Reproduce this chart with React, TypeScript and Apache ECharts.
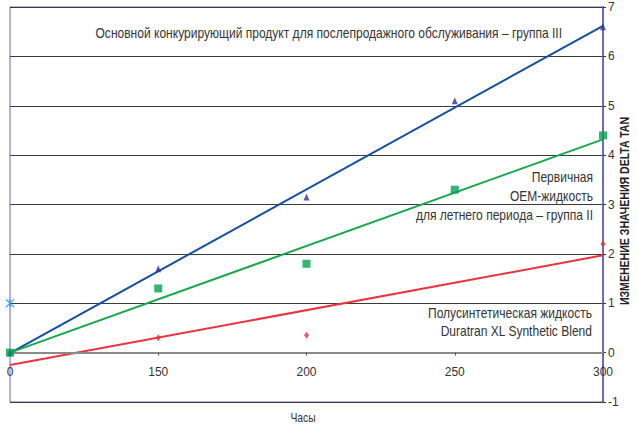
import React, { useEffect, useRef } from "react";
import * as echarts from "echarts";

const categories = ["0", "150", "200", "250", "300"];
const yTicks = { min: -1, max: 7, interval: 1 };

const competitorValues = [0, 1.7, 3.15, 5.1, 6.6];
const oemValues = [0, 1.3, 1.8, 3.3, 4.4];
const duratranValues = [0, 0.3, 0.35, null, 2.2];
const extraValues = [1, null, null, null, null];

// trendline end values (at first and last category)
const competitorTrend = [-0.01, 6.62];
const oemTrend = [0, 4.32];
const duratranTrend = [-0.25, 1.97];

const titleCompetitor = "Основной конкурирующий продукт для послепродажного обслуживания – группа III";
const titleOem = ["Первичная", "OEM-жидкость", "для летнего периода – группа II"];
const titleDuratran = ["Полусинтетическая жидкость", "Duratran XL Synthetic Blend"];
const xName = "Часы";
const yName = "ИЗМЕНЕНИЕ ЗНАЧЕНИЯ DELTA TAN";

const FONT = "'Liberation Sans', Arial, sans-serif";
const TXT = "#333333";

const BLUE = "#13509f";
const GREEN = "#17a84b";
const RED = "#ec3340";

const W = 637;
const H = 427;
const GRID = { left: 10, right: 34, top: 7, bottom: 25 };

export default function App() {
  const ref = useRef<HTMLDivElement>(null);
  useEffect(() => {
    if (!ref.current) return;
    const chart = echarts.init(ref.current, undefined, { renderer: "svg" });
    const last = categories.length - 1;
    const plotH = H - GRID.top - GRID.bottom;
    const zeroOffset = -(plotH * (0 - yTicks.min)) / (yTicks.max - yTicks.min);

    const trend = (v: number[], color: string, name: string) => ({
      name,
      type: "line",
      data: [
        [0, v[0]],
        [last, v[1]],
      ],
      showSymbol: false,
      symbol: "none",
      lineStyle: { color, width: 2 },
      z: 3,
      silent: true,
    });

    const label = (text: string, x: number, y: number, size = 14, align = "right", scale = 0.86) => ({
      type: "text",
      x,
      y,
      scaleX: scale,
      z: 10,
      style: {
        text,
        x: 0,
        y: 0,
        fill: TXT,
        font: `${size}px ${FONT}`,
        align,
        verticalAlign: "middle",
        textAlign: align,
        textVerticalAlign: "middle",
      },
    });

    chart.setOption({
      animation: false,
      textStyle: { fontFamily: FONT },
      grid: {
        ...GRID,
        show: true,
        borderColor: "#6b6bb3",
        borderWidth: 1,
        backgroundColor: "#ffffff",
      },
      xAxis: {
        type: "category",
        data: categories,
        boundaryGap: false,
        offset: zeroOffset,
        axisLine: { onZero: false, lineStyle: { color: "#8a8a8a", width: 2 } },
        axisTick: { show: true, alignWithLabel: true, length: 3, lineStyle: { color: "#555" } },
        axisLabel: { color: TXT, fontSize: 12, margin: 13, fontFamily: FONT },
        splitLine: { show: false },
        z: 4,
      },
      yAxis: {
        type: "value",
        position: "right",
        min: yTicks.min,
        max: yTicks.max,
        interval: yTicks.interval,
        axisLine: { show: true, lineStyle: { color: "#6b6bb3", width: 2 } },
        axisTick: { show: true, length: 3, lineStyle: { color: "#333" } },
        axisLabel: { color: TXT, fontSize: 12, margin: 5, fontFamily: FONT },
        splitLine: { show: true, lineStyle: { color: "#3a3a3a", width: 1 } },
      },
      series: [
        trend(competitorTrend, BLUE, "trendCompetitor"),
        trend(oemTrend, GREEN, "trendOem"),
        trend(duratranTrend, RED, "trendDuratran"),
        {
          name: "duratran",
          type: "scatter",
          data: duratranValues,
          symbol: "diamond",
          symbolSize: [5, 7],
          itemStyle: { color: "#e8303b" },
          z: 5,
        },
        {
          name: "competitor",
          type: "scatter",
          data: competitorValues,
          symbol: "triangle",
          symbolSize: [6, 7],
          itemStyle: { color: "#2b3590" },
          z: 5,
        },
        {
          name: "oem",
          type: "scatter",
          data: oemValues,
          symbol: "rect",
          symbolSize: 8,
          itemStyle: { color: "#00a251" },
          z: 6,
        },
        {
          name: "extra",
          type: "scatter",
          data: extraValues,
          symbol: "path://M0,0 L10,10 M10,0 L0,10 M5,0 L5,10",
          symbolSize: 8,
          itemStyle: { color: "none", borderColor: "#2aa0dc", borderWidth: 1.5 },
          z: 6,
        },
      ],
      graphic: [
        label(titleCompetitor, 562, 33),
        label(titleOem[0], 593, 177),
        label(titleOem[1], 593, 196),
        label(titleOem[2], 593, 215),
        label(titleDuratran[0], 592, 313),
        label(titleDuratran[1], 592, 331),
        label(xName, 303, 418, 12, "center"),
        {
          type: "text",
          x: 625,
          y: 211,
          rotation: Math.PI / 2,
          scaleX: 0.88,
          z: 10,
          style: {
            text: yName,
            x: 0,
            y: 0,
            fill: "#222",
            font: `bold 12px ${FONT}`,
            align: "center",
            verticalAlign: "middle",
            textAlign: "center",
            textVerticalAlign: "middle",
          },
        },
      ],
    });
    return () => chart.dispose();
  }, []);
  return (
    <div
      ref={ref}
      style={{ position: "fixed", left: 0, top: 0, width: W, height: H, background: "#fff" }}
    />
  );
}
